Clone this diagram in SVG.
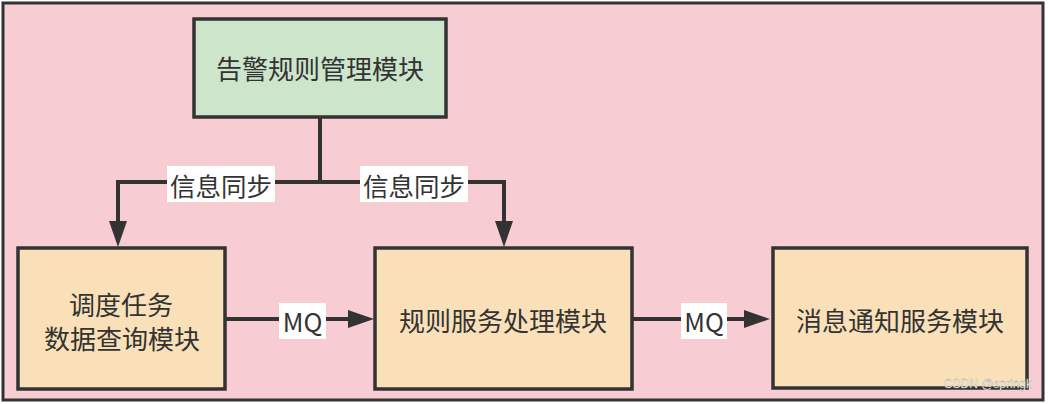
<svg xmlns="http://www.w3.org/2000/svg" width="1048" height="404" viewBox="0 0 1048 404">
<style>
.box{stroke:#333;stroke-width:3.5}
.t{font-family:"Noto Sans CJK SC","Noto Sans",sans-serif;font-size:26px;fill:#333;text-anchor:middle;dominant-baseline:central}
.lbl{font-family:"Noto Sans CJK SC","Noto Sans",sans-serif;font-size:25.5px;fill:#333;text-anchor:middle;dominant-baseline:central}
.edge{fill:none;stroke:#333;stroke-width:4}
.bg{fill:#fff}
</style>
<defs>
<marker id="arr" markerUnits="userSpaceOnUse" markerWidth="28" markerHeight="20" viewBox="0 0 28 20" refX="4" refY="9" orient="auto">
<path d="M0,0 L26,9 L0,18 Z" fill="#333"/>
</marker>
</defs>
<rect x="3" y="3" width="1040" height="397" fill="#f7cdd3" stroke="#333" stroke-width="3"/>
<g id="n-alarm-rule">
<rect class="box" x="194" y="19" width="252" height="98" fill="#cde5cb"/>
<text class="t" x="320" y="67">告警规则管理模块</text>
</g>
<g id="n-schedule">
<rect class="box" x="18" y="248" width="207" height="141" fill="#f9e0b8"/>
<text class="t" x="121" y="303">调度任务</text>
<text class="t" x="122" y="337">数据查询模块</text>
</g>
<g id="n-rule-service">
<rect class="box" x="375" y="248" width="257" height="141" fill="#f9e0b8"/>
<text class="t" x="503" y="319">规则服务处理模块</text>
</g>
<g id="n-notify">
<rect class="box" x="773" y="248" width="254" height="140" fill="#f9e0b8"/>
<text class="t" x="900" y="319">消息通知服务模块</text>
</g>
<g id="connectors">
<path class="edge" d="M320,117 V182 H118 V225" marker-end="url(#arr)"/>
<path class="edge" d="M320,182 H504 V225" marker-end="url(#arr)"/>
<path class="edge" d="M225,319 H352" marker-end="url(#arr)"/>
<path class="edge" d="M632,319 H748" marker-end="url(#arr)"/>
<rect class="bg" x="167" y="166" width="108" height="36"/>
<text class="lbl" x="221" y="184">信息同步</text>
<rect class="bg" x="360" y="166" width="108" height="36"/>
<text class="lbl" x="414" y="184">信息同步</text>
<rect class="bg" x="279" y="303" width="47" height="36"/>
<text class="lbl" x="302.5" y="320">MQ</text>
<rect class="bg" x="681" y="303" width="46" height="36"/>
<text class="lbl" x="704" y="320">MQ</text>
</g>
<text x="1032" y="388" font-family="Liberation Sans,sans-serif" font-size="12" fill="#fff" stroke="#999" stroke-width="0.3" text-anchor="end">CSDN @springk</text>
</svg>
